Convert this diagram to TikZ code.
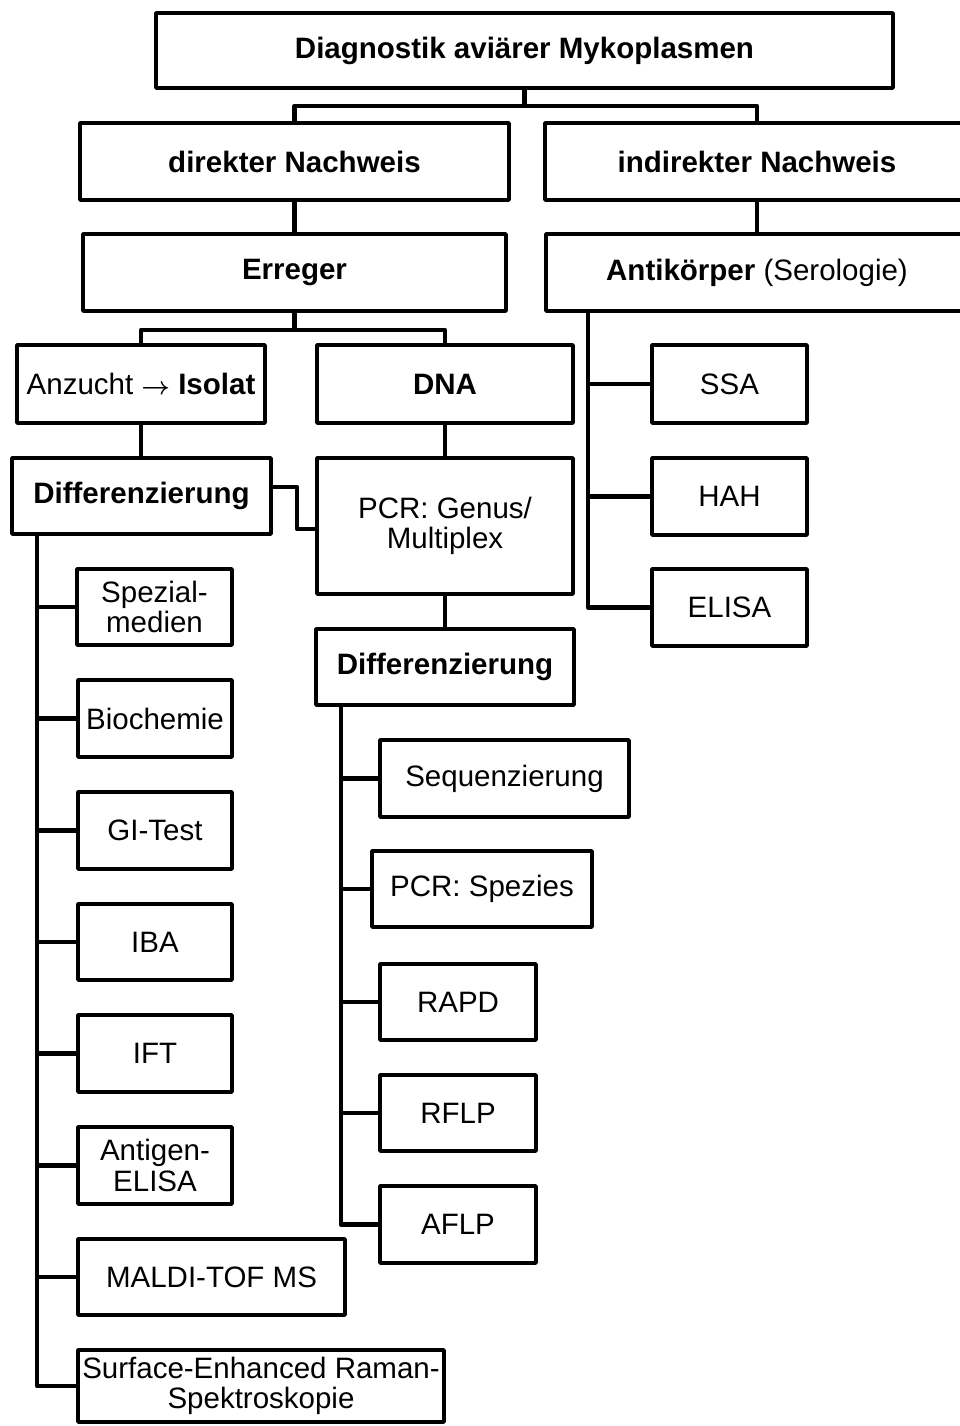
\documentclass[tikz,border=0pt]{standalone}
\usepackage{fontspec}
\setmainfont{Liberation Sans}
\tikzset{
  lw/.style={line width=4.3pt, line join=round},
  bx/.style={draw, lw, inner sep=0pt, align=center, font=\fontsize{29.5}{30.5}\selectfont},
  con/.style={lw}
}
\newcommand{\bx}[6]{%
  \pgfmathsetmacro{\bcx}{(#2+#4)/2}\pgfmathsetmacro{\bcy}{(#3+#5)/2}%
  \pgfmathsetmacro{\bwid}{#4-#2-4.3}\pgfmathsetmacro{\bhei}{#5-#3-4.3}%
  \node[bx, minimum width=\bwid pt, minimum height=\bhei pt] (#1) at (\bcx,\bcy) {#6};}
\begin{document}
\begin{tikzpicture}[x=1pt,y=-1pt]
\useasboundingbox (0,0) rectangle (960,1426);
\clip (0,0) rectangle (960,1426);
% level 0-2
\bx{top}{154}{11}{895}{90}{\textbf{Diagnostik aviärer Mykoplasmen}}
\bx{dir}{78}{121}{511}{202}{\textbf{direkter Nachweis}}
\bx{ind}{543}{121}{971}{202}{\textbf{indirekter Nachweis}}
\bx{err}{81}{232}{508}{313}{\textbf{Erreger}}
\bx{ak}{544}{232}{970}{313}{\textbf{Antikörper} (Serologie)}
% level 3
\bx{anz}{15}{343}{267}{425}{Anzucht {\fontsize{25}{30}\selectfont\boldmath$\rightarrow$} \textbf{Isolat}}
\bx{dna}{315}{343}{575}{425}{\textbf{DNA}}
\bx{diffa}{10}{456}{273}{536}{\textbf{Differenzierung}}
\bx{pcrg}{315}{456}{575}{596}{PCR: Genus/\\Multiplex}
\bx{diffb}{314}{627}{576}{707}{\textbf{Differenzierung}}
% serology
\bx{ssa}{650}{343}{809}{425}{SSA}
\bx{hah}{650}{456}{809}{537}{HAH}
\bx{elisa}{650}{567}{809}{648}{ELISA}
% left children
\bx{spez}{75}{567}{234}{647}{Spezial-\\medien}
\bx{bio}{76}{678}{234}{759}{Biochemie}
\bx{gi}{76}{790}{234}{871}{GI-Test}
\bx{iba}{76}{902}{234}{982}{IBA}
\bx{ift}{76}{1013}{234}{1094}{IFT}
\bx{ag}{76}{1125}{234}{1206}{Antigen-\\ELISA}
\bx{maldi}{76}{1237}{347}{1317}{MALDI-TOF MS}
\bx{sers}{76}{1348}{446}{1424}{Surface-Enhanced Raman-\\Spektroskopie}
% right children
\bx{seq}{378}{738}{631}{819}{Sequenzierung}
\bx{pcrs}{370}{849}{594}{929}{PCR: Spezies}
\bx{rapd}{378}{962}{538}{1042}{RAPD}
\bx{rflp}{378}{1073}{538}{1153}{RFLP}
\bx{aflp}{378}{1184}{538}{1265}{AFLP}
% connectors
\coordinate (bus1) at (524,106);
\draw[con] (top.south) -- (top.south |- bus1) -| (dir.north);
\draw[con] (top.south |- bus1) -| (ind.north);
\draw[con] (dir.south) -- (dir.south |- err.north);
\draw[con] (ind.south) -- (ind.south |- ak.north);
\coordinate (bus2) at (295,330);
\draw[con] (err.south) -- (err.south |- bus2) -| (anz.north);
\draw[con] (err.south |- bus2) -| (dna.north);
\draw[con] (anz.south) -- (anz.south |- diffa.north);
\draw[con] (dna.south) -- (dna.south |- pcrg.north);
\coordinate (e1) at (297,487);
\coordinate (e2) at (297,529);
\draw[con] (diffa.east |- e1) -- (e1) -- (e2) -- (pcrg.west |- e2);
\draw[con] (pcrg.south) -- (pcrg.south |- diffb.north);
% serology trunk
\coordinate (st) at (588,313);
\foreach \n in {ssa,hah,elisa} \draw[con] (st) |- (\n.west);
% left trunk
\coordinate (lt) at (37,534);
\foreach \n in {spez,bio,gi,iba,ift,ag,maldi,sers} \draw[con] (lt) |- (\n.west);
% right trunk
\coordinate (rt) at (341,705);
\foreach \n in {seq,pcrs,rapd,rflp,aflp} \draw[con] (rt) |- (\n.west);
\end{tikzpicture}
\end{document}
